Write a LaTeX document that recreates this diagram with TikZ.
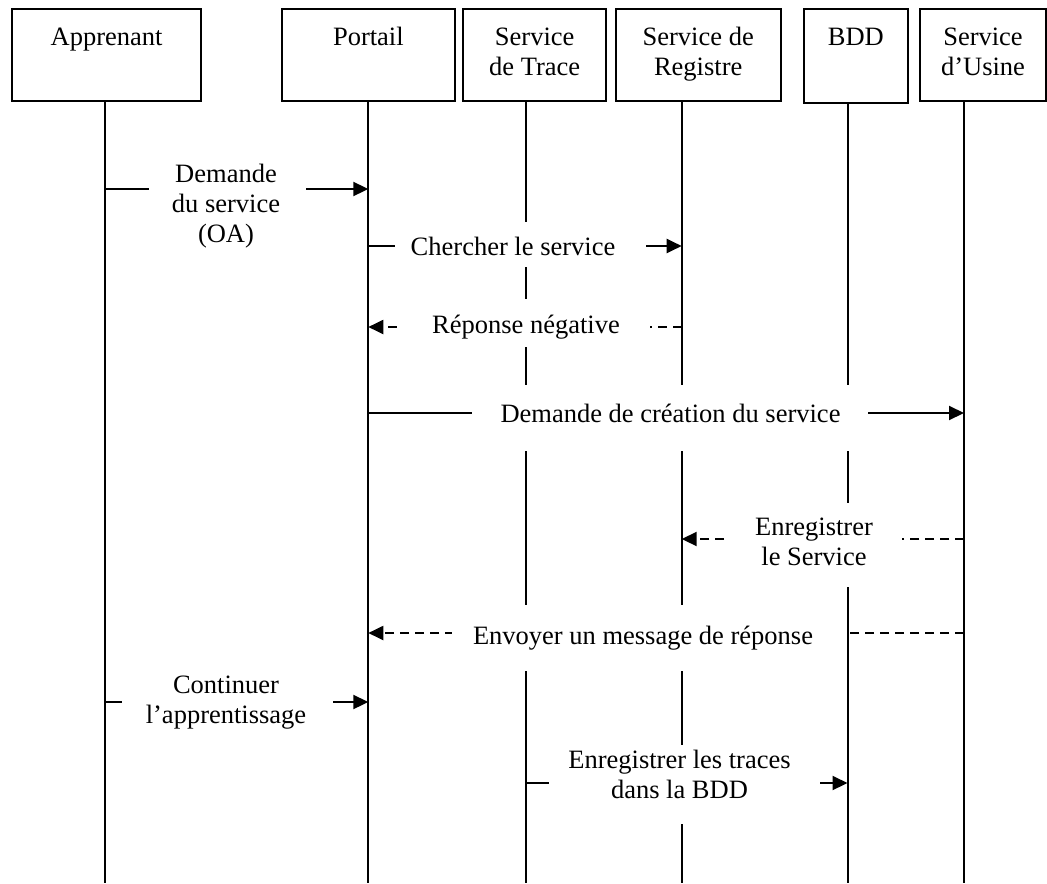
\documentclass[tikz,border=0pt]{standalone}
\usepackage{fontspec}
\setmainfont{Liberation Serif}
\usetikzlibrary{arrows.meta}
\begin{document}
\begin{tikzpicture}[x=0.5pt,y=-0.5pt,
  font=\fontsize{13.25}{15}\selectfont,
  actorbox/.style={draw,line width=1.1pt,inner sep=0pt,minimum height=45.7pt},
  lbl/.style={anchor=base,inner sep=0pt},
  life/.style={line width=1pt},
  msg/.style={line width=1pt,-{Triangle[length=7.5pt,width=7pt]}},
  ret/.style={msg,dash pattern=on 4.5pt off 3pt},
  mask/.style={fill=white}]
\useasboundingbox (0,0) rectangle (1047,883);
% actor boxes
\node[actorbox,minimum width=94.35pt] (app) at (106.65,55) {};
\node[actorbox,minimum width=86.65pt] (por) at (368.35,55) {};
\node[actorbox,minimum width=71.35pt] (tra) at (534.65,55) {};
\node[actorbox,minimum width=82.5pt] (reg) at (698.2,55) {};
\node[actorbox,minimum width=51.85pt,minimum height=46.7pt] (bdd) at (855.85,56) {};
\node[actorbox,minimum width=63pt] (usi) at (983,55) {};
% actor labels
\node[lbl] (appT) at (106.65,45.5) {Apprenant};
\node[lbl] (porT) at (368.35,45.5) {Portail};
\node[lbl] (traT) at (534.65,45.5) {\begin{tabular}[t]{@{}c@{}}Service\\de Trace\end{tabular}};
\node[lbl] (regT) at (698.2,45.5) {\begin{tabular}[t]{@{}c@{}}Service de\\Registre\end{tabular}};
\node[lbl] (bddT) at (855.85,45.5) {BDD};
\node[lbl] (usiT) at (983,45.5) {\begin{tabular}[t]{@{}c@{}}Service\\d’Usine\end{tabular}};
% lifeline ends
\coordinate (appL) at (105,883);
\coordinate (porL) at (368.3,883);
\coordinate (traL) at (526,883);
\coordinate (regL) at (681.7,883);
\coordinate (bddL) at (847.5,883);
\coordinate (usiL) at (964,883);
\draw[life] (appL |- app.south) -- (appL);
\draw[life] (porL |- por.south) -- (porL);
\draw[life] (traL |- tra.south) -- (traL);
\draw[life] (regL |- reg.south) -- (regL);
\draw[life] (bddL |- bdd.south) -- (bddL);
\draw[life] (usiL |- usi.south) -- (usiL);
% message levels
\coordinate (m1) at (0,189);
\coordinate (m2) at (0,246);
\coordinate (m3) at (0,327);
\coordinate (m4) at (0,413);
\coordinate (m5) at (0,539);
\coordinate (m6) at (0,633);
\coordinate (m7) at (0,702);
\coordinate (m8) at (0,783);
% messages
\draw[msg] (appL |- m1) -- (porL |- m1);
\draw[msg] (porL |- m2) -- (regL |- m2);
\draw[ret] (regL |- m3) -- (porL |- m3);
\draw[msg] (porL |- m4) -- (usiL |- m4);
\draw[ret] (usiL |- m5) -- (regL |- m5);
\draw[ret] (usiL |- m6) -- (porL |- m6);
\draw[msg] (appL |- m7) -- (porL |- m7);
\draw[msg] (traL |- m8) -- (bddL |- m8);
% label backgrounds
\fill[mask] (149,155) rectangle (306,252);
\fill[mask] (395,222) rectangle (646,267);
\fill[mask] (403,299) rectangle (650,347);
\fill[mask] (472,385) rectangle (868,451);
\fill[mask] (727,503) rectangle (902,587);
\fill[mask] (452,605) rectangle (847,671);
\fill[mask] (122,670) rectangle (333,735);
\fill[mask] (549,745) rectangle (820,824);
% message labels
\node[lbl] (t1) at (226,182) {\begin{tabular}[t]{@{}c@{}}Demande\\du service\\(OA)\end{tabular}};
\node[lbl] (t2) at (513,255) {Chercher le service};
\node[lbl] (t3) at (526,333) {Réponse négative};
\node[lbl] (t4) at (670.5,422) {Demande de création du service};
\node[lbl] (t5) at (814,535) {\begin{tabular}[t]{@{}c@{}}Enregistrer\\le Service\end{tabular}};
\node[lbl] (t6) at (643,644) {Envoyer un message de réponse};
\node[lbl] (t7) at (226,693) {\begin{tabular}[t]{@{}c@{}}Continuer\\l’apprentissage\end{tabular}};
\node[lbl] (t8) at (679.5,768) {\begin{tabular}[t]{@{}c@{}}Enregistrer les traces\\dans la BDD\end{tabular}};
\end{tikzpicture}
\end{document}
